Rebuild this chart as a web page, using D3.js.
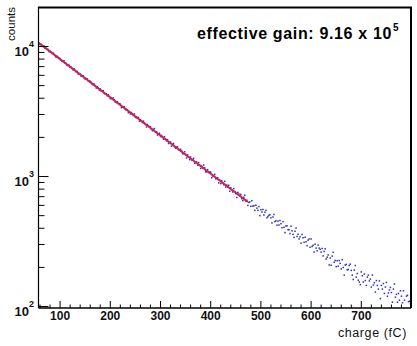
<!DOCTYPE html>
<html><head><meta charset="utf-8">
<script src="https://cdn.jsdelivr.net/npm/d3@7"></script>
<style>body{margin:0;background:#fff}</style>
</head><body>
<svg id="c" width="417" height="346"></svg>
<script>
// histogram: regular bins of charge (fC)
const binStart = 58, binWidth = 2;
const counts = [
10552,10261,10321,10113,9918,9994,9612,9611,9423,9426,
9049,9125,8946,8758,8831,8609,8436,8190,8334,8185,
8019,8010,7760,7610,7668,7683,7375,7339,7078,7117,
7114,6852,6876,6717,6560,6680,6491,6337,6370,6100,
6126,6106,5837,5898,5912,5694,5578,5611,5584,5408,
5336,5359,5245,5072,5040,5103,4949,4751,4860,4738,
4586,4672,4515,4508,4530,4300,4296,4293,4141,4220,
4089,3938,4000,3902,3996,3861,3695,3676,3728,3609,
3596,3572,3363,3400,3390,3411,3246,3244,3236,3067,
3132,3006,3077,2997,2923,3001,2822,2856,2784,2820,
2643,2715,2648,2577,2646,2553,2488,2381,2489,2435,
2372,2394,2285,2228,2286,2320,2177,2182,2064,2110,
2131,2011,2049,1984,1921,2009,1928,1865,1904,1778,
1814,1824,1697,1751,1778,1678,1634,1671,1675,1597,
1576,1607,1562,1485,1485,1536,1468,1377,1454,1402,
1336,1398,1328,1340,1367,1256,1269,1281,1212,1269,
1213,1144,1191,1151,1215,1155,1077,1079,1120,1067,
1072,1072,969,1001,1007,1030,951,961,968,885,
931,874,921,888,858,910,823,851,821,849,
764,812,784,754,800,759,732,683,748,728,
701,722,669,646,686,712,641,651,594,626,
632,585,646,586,592,544,596,566,545,582,
496,550,529,553,501,527,545,477,488,498,
504,477,436,484,506,446,453,419,450,420,
455,430,400,446,403,367,413,414,387,386,
361,411,379,356,337,376,398,343,357,328,
341,305,355,335,309,338,312,291,321,328,
283,328,287,293,260,299,279,266,294,279,
273,260,277,243,263,276,230,238,247,207,
234,206,242,259,217,224,201,223,203,224,
213,193,227,198,173,207,209,190,191,205,
210,188,173,160,189,205,167,178,158,153,
146,183,171,153,176,157,144,167,173,156,
161,140,173,145,151,128,157,144,135,156,
114,144,135,149,125,140,152,119,126,133,
139,127,107,135,148,117,123,107,125,111,
131,119,106,131,111,93,119,121,108,109,
104
];
// exponential fit (straight on log axis): endpoints of fit range
const fitCharge = [58, 475];
const fitCounts = [10593, 631];
const xMajorTicks = [100,200,300,400,500,600,700];
const xMinorStep = 20;
const yDecades = [100,1000,10000];
const yDecadeExp = ["2","3","4"];
const xTitle = "charge (fC)", yTitle = "counts";
const gainText = "effective gain: 9.16 x 10", gainExp = "5";

const svg = d3.select("#c");
const L = 38.5, R = 411, T = 7.5, B = 308;
const xDom = [58, 800], yDom = [96.6, 19770];
const x = d3.scaleLinear().domain(xDom).range([L, R]);
const y = d3.scaleLog().domain(yDom).range([B, T]);

// points
const pts = counts.map((c,i)=>({q: binStart + binWidth*(i+0.5), c}))
  .filter(d => d.c >= yDom[0] && d.q <= xDom[1]);
svg.append("g").selectAll("rect").data(pts).join("rect")
  .attr("x", d => x(d.q) - 0.75).attr("y", d => y(d.c) - 0.75)
  .attr("width", 1.5).attr("height", 1.5)
  .attr("fill", "#2e2ec4");

// fit line
svg.append("path")
  .datum(fitCharge.map((q,i)=>[q, fitCounts[i]]))
  .attr("d", d3.line().x(d=>x(d[0])).y(d=>y(d[1])))
  .attr("fill","none").attr("stroke","#d11f4f").attr("stroke-width",2);

// x axis ticks
const minor = d3.range(60, 801, xMinorStep).filter(v => !xMajorTicks.includes(v));
const gxm = svg.append("g").attr("transform",`translate(0,${B})`)
  .call(d3.axisBottom(x).tickValues(minor).tickSizeInner(-3.5).tickSizeOuter(0).tickFormat(""));
const gx = svg.append("g").attr("transform",`translate(0,${B})`)
  .call(d3.axisBottom(x).tickValues(xMajorTicks).tickSizeInner(-7).tickSizeOuter(0));
[gxm, gx].forEach(g => { g.select(".domain").remove(); g.selectAll("line").attr("stroke","#000").attr("stroke-width",1); });
gx.selectAll("text").attr("y", 12).attr("dy", 0)
  .attr("font-family","Arial, 'Liberation Sans', sans-serif").attr("font-size",12)
  .attr("font-weight","bold").attr("fill","#111");

// y axis ticks
const yMinor = [];
yDecades.forEach(d => { for (let k=2;k<=9;k++) if (d*k < yDom[1]) yMinor.push(d*k); });
const gym = svg.append("g").attr("transform",`translate(${L},0)`)
  .call(d3.axisLeft(y).tickValues(yMinor).tickSizeInner(-6).tickSizeOuter(0).tickFormat(""));
const gy = svg.append("g").attr("transform",`translate(${L},0)`)
  .call(d3.axisLeft(y).tickValues(yDecades).tickSizeInner(-10).tickSizeOuter(0).tickFormat(""));
[gym, gy].forEach(g => { g.select(".domain").remove(); g.selectAll("line").attr("stroke","#000").attr("stroke-width",1); });
gy.selectAll(".tick").each(function(d,i){
  const t = d3.select(this).append("text")
    .attr("x", -4.5).attr("y", 9.5).attr("text-anchor","end")
    .attr("font-family","Arial, 'Liberation Sans', sans-serif")
    .attr("font-weight","bold").attr("fill","#111");
  t.append("tspan").attr("font-size",13).text("10");
  t.append("tspan").attr("font-size",9).attr("dy",-9).text(yDecadeExp[i]);
});

// frame
svg.append("line").attr("x1",L).attr("x2",L).attr("y1",T).attr("y2",B).attr("stroke","#000").attr("stroke-width",1.2);
svg.append("line").attr("x1",L).attr("x2",R).attr("y1",B).attr("y2",B).attr("stroke","#000").attr("stroke-width",1.5);
svg.append("line").attr("x1",L-0.6).attr("x2",R+1).attr("y1",T).attr("y2",T).attr("stroke","#000").attr("stroke-width",2);
svg.append("line").attr("x1",R).attr("x2",R).attr("y1",T).attr("y2",B).attr("stroke","#000").attr("stroke-width",2);

// titles
svg.append("text").attr("x",407).attr("y",337).attr("text-anchor","end")
  .attr("font-family","Arial, 'Liberation Sans', sans-serif").attr("font-size",12.5)
  .attr("letter-spacing","0.6px").attr("fill","#111").text(xTitle);
svg.append("text").attr("transform","translate(15,7) rotate(-90)").attr("text-anchor","end")
  .attr("font-family","Arial, 'Liberation Sans', sans-serif").attr("font-size",11.5)
  .attr("fill","#111").text(yTitle);
const g = svg.append("text").attr("x",197).attr("y",39)
  .attr("font-family","Arial, 'Liberation Sans', sans-serif").attr("font-weight","bold")
  .attr("fill","#000");
g.append("tspan").attr("font-size",16).attr("letter-spacing","0.65px").text(gainText);
g.append("tspan").attr("font-size",10).attr("dy",-8).attr("dx",1).text(gainExp);
</script>
</body></html>
